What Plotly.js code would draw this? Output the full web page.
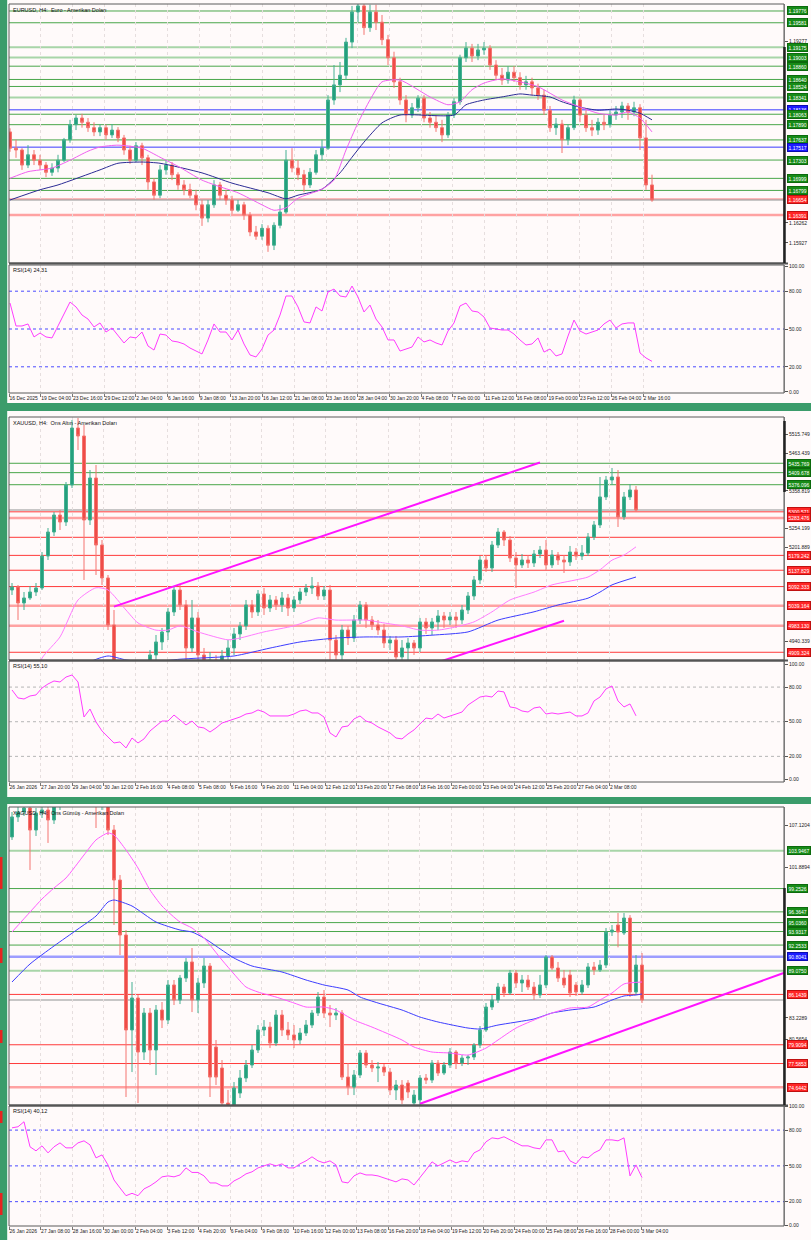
<!DOCTYPE html>
<html>
<head>
<meta charset="utf-8">
<script src="https://cdn.plot.ly/plotly-3.0.1.min.js"></script>
<style>
html,body{margin:0;padding:0;background:#fffafa;overflow:hidden;}
#chart{width:811px;height:1240px;}
</style>
</head>
<body>
<div id="chart"></div>
<script>
// ================= EURUSD H4 =================
const eurTitle = 'EURUSD, H4:  Euro - Amerikan Doları';
const eurRsiTitle = 'RSI(14) 24.31';
const eurDates = ['16 Dec 2025','19 Dec 04:00','23 Dec 16:00','29 Dec 12:00','2 Jan 04:00','6 Jan 16:00','9 Jan 08:00','13 Jan 20:00','16 Jan 12:00','21 Jan 08:00','23 Jan 16:00','28 Jan 04:00','30 Jan 20:00','4 Feb 08:00','7 Feb 00:00','11 Feb 12:00','16 Feb 08:00','19 Feb 00:00','23 Feb 12:00','26 Feb 04:00','2 Mar 16:00'];
const eurOpen = [1.1777,1.1750,1.1747,1.1722,1.1739,1.1730,1.1722,1.1710,1.1717,1.1730,1.1764,1.1789,1.1800,1.1793,1.1784,1.1777,1.1784,1.1772,1.1780,1.1767,1.1747,1.1730,1.1754,1.1734,1.1694,1.1672,1.1714,1.1722,1.1706,1.1689,1.1681,1.1672,1.1656,1.1634,1.1656,1.1689,1.1672,1.1664,1.1647,1.1656,1.1639,1.1611,1.1604,1.1617,1.1589,1.1622,1.1644,1.1730,1.1717,1.1706,1.1689,1.1710,1.1739,1.1750,1.1830,1.1855,1.1871,1.1926,1.1976,1.1986,1.1950,1.1976,1.1959,1.1930,1.1900,1.1860,1.1830,1.1805,1.1817,1.1833,1.1800,1.1793,1.1784,1.1772,1.1805,1.1827,1.1900,1.1916,1.1903,1.1913,1.1916,1.1888,1.1871,1.1863,1.1876,1.1867,1.1855,1.1860,1.1850,1.1838,1.1813,1.1784,1.1790,1.1764,1.1784,1.1830,1.1805,1.1784,1.1780,1.1793,1.1789,1.1805,1.1810,1.1820,1.1810,1.1817,1.1767,1.1689];
const eurHigh = [1.1783,1.1764,1.1750,1.1755,1.1747,1.1739,1.1727,1.1725,1.1739,1.1767,1.1797,1.1805,1.1807,1.1800,1.1793,1.1790,1.1789,1.1790,1.1785,1.1772,1.1754,1.1760,1.1759,1.1739,1.1700,1.1722,1.1730,1.1727,1.1710,1.1697,1.1691,1.1681,1.1664,1.1664,1.1697,1.1694,1.1681,1.1671,1.1664,1.1661,1.1644,1.1621,1.1624,1.1622,1.1627,1.1656,1.1747,1.1750,1.1730,1.1714,1.1717,1.1747,1.1764,1.1838,1.1888,1.1893,1.1933,1.1986,1.1993,1.1989,1.1988,1.1988,1.1971,1.1938,1.1910,1.1867,1.1838,1.1825,1.1838,1.1838,1.1810,1.1805,1.1797,1.1810,1.1833,1.1905,1.1926,1.1923,1.1923,1.1926,1.1921,1.1896,1.1883,1.1886,1.1886,1.1876,1.1870,1.1867,1.1857,1.1847,1.1820,1.1800,1.1797,1.1790,1.1837,1.1833,1.1813,1.1797,1.1800,1.1805,1.1813,1.1820,1.1827,1.1825,1.1827,1.1823,1.1797,1.1706];
const eurLow = [1.1744,1.1734,1.1714,1.1717,1.1722,1.1714,1.1702,1.1704,1.1710,1.1727,1.1759,1.1780,1.1784,1.1777,1.1770,1.1770,1.1764,1.1767,1.1760,1.1739,1.1724,1.1727,1.1722,1.1681,1.1664,1.1667,1.1706,1.1697,1.1681,1.1672,1.1667,1.1647,1.1621,1.1627,1.1651,1.1664,1.1656,1.1641,1.1644,1.1631,1.1604,1.1598,1.1598,1.1578,1.1581,1.1617,1.1641,1.1710,1.1697,1.1677,1.1684,1.1706,1.1730,1.1747,1.1822,1.1843,1.1863,1.1916,1.1959,1.1938,1.1943,1.1946,1.1921,1.1888,1.1850,1.1822,1.1793,1.1800,1.1810,1.1793,1.1784,1.1777,1.1760,1.1767,1.1800,1.1822,1.1893,1.1893,1.1896,1.1905,1.1880,1.1863,1.1855,1.1857,1.1860,1.1847,1.1847,1.1838,1.1830,1.1805,1.1777,1.1772,1.1742,1.1755,1.1780,1.1793,1.1777,1.1770,1.1772,1.1780,1.1784,1.1797,1.1800,1.1797,1.1803,1.1747,1.1681,1.1661];
const eurClose = [1.1750,1.1747,1.1722,1.1739,1.1730,1.1722,1.1710,1.1717,1.1730,1.1764,1.1789,1.1800,1.1793,1.1784,1.1777,1.1784,1.1772,1.1780,1.1767,1.1747,1.1730,1.1754,1.1734,1.1694,1.1672,1.1714,1.1722,1.1706,1.1689,1.1681,1.1672,1.1656,1.1634,1.1656,1.1689,1.1672,1.1664,1.1647,1.1656,1.1639,1.1611,1.1604,1.1617,1.1589,1.1622,1.1644,1.1730,1.1717,1.1706,1.1689,1.1710,1.1739,1.1750,1.1830,1.1855,1.1871,1.1926,1.1976,1.1986,1.1950,1.1976,1.1959,1.1930,1.1900,1.1860,1.1830,1.1805,1.1817,1.1833,1.1800,1.1793,1.1784,1.1772,1.1805,1.1827,1.1900,1.1916,1.1903,1.1913,1.1916,1.1888,1.1871,1.1863,1.1876,1.1867,1.1855,1.1860,1.1850,1.1838,1.1813,1.1784,1.1790,1.1764,1.1784,1.1830,1.1805,1.1784,1.1780,1.1793,1.1789,1.1805,1.1810,1.1820,1.1810,1.1817,1.1767,1.1689,1.1664];
const eurMaFastBar = [0,3,7,10,13,15,18,22,25,28,32,35,38,42,44,46,48,52,54,56,58,60,62,65,70,73,75,77,79,82,85,88,92,94,98,101,103,105,107];
const eurMaFast = [1.1700,1.1711,1.1717,1.1730,1.1745,1.1752,1.1755,1.1750,1.1735,1.1720,1.1697,1.1686,1.1676,1.1656,1.1647,1.1651,1.1667,1.1682,1.1697,1.1747,1.1792,1.1830,1.1860,1.1863,1.1835,1.1822,1.1827,1.1847,1.1858,1.1865,1.1860,1.1852,1.1830,1.1822,1.1808,1.1805,1.1810,1.1800,1.1777];
const eurMaSlowBar = [0,5,8,15,18,22,25,32,37,43,46,48,52,55,57,59,62,65,74,76,79,82,85,87,90,92,95,98,101,103,105,107];
const eurMaSlow = [1.1664,1.1681,1.1689,1.1714,1.1725,1.1727,1.1725,1.1709,1.1692,1.1676,1.1666,1.1672,1.1682,1.1709,1.1735,1.1760,1.1792,1.1805,1.1805,1.1822,1.1830,1.1835,1.1840,1.1838,1.1835,1.1827,1.1818,1.1813,1.1815,1.1813,1.1808,1.1797];
const eurRsi = [70.6,52.4,52.4,54.0,43.7,46.8,43.7,42.9,52.4,61.9,71.4,67.5,61.1,57.9,51.6,54.8,47.6,50.8,45.2,38.9,43.7,42.9,47.6,36.5,33.3,46.0,45.2,40.5,39.7,38.1,34.9,32.5,30.2,41.3,54.0,47.6,47.6,41.3,49.2,38.1,29.4,27.8,34.1,45.2,49.2,61.1,76.2,76.2,67.5,55.6,54.8,67.5,64.3,79.4,81.7,76.2,75.4,84.1,75.4,63.5,69.0,57.9,51.6,41.3,41.3,32.5,34.1,35.7,43.7,39.7,41.3,38.9,37.3,48.4,54.8,68.3,70.6,64.3,63.5,59.5,50.8,50.0,49.2,49.2,46.0,41.3,37.3,38.1,42.9,31.7,34.1,28.6,30.2,44.4,57.1,48.4,46.0,47.6,49.2,54.0,57.1,50.8,54.0,54.8,54.8,31.0,27.0,24.31];
const eurLevels = [1.19776,1.19581,1.19175,1.19003,1.18860,1.18640,1.18524,1.18341,1.18136,1.18063,1.17890,1.17637,1.17517,1.17303,1.16999,1.16799,1.16654,1.16391];
const eurLevelKinds = ['res','res','resWeak','resWeak','res','res','res','resWeak','pivot','res','res','res','pivot','res','res','res','sup','supWeak'];
const eurPriceTicks = [1.15927,1.16262,1.16597,1.16932,1.17267,1.17602,1.17937,1.18272,1.18607,1.18942,1.19277,1.19612];
const eurUnlabeled = [];

// ================= XAUUSD H4 =================
const xauTitle = 'XAUUSD, H4:  Ons Altın - Amerikan Doları';
const xauRsiTitle = 'RSI(14) 55.10';
const xauDates = ['26 Jan 2026','27 Jan 20:00','29 Jan 04:00','30 Jan 12:00','2 Feb 16:00','4 Feb 08:00','5 Feb 08:00','6 Feb 16:00','9 Feb 20:00','11 Feb 04:00','12 Feb 12:00','13 Feb 20:00','17 Feb 08:00','18 Feb 16:00','20 Feb 00:00','23 Feb 04:00','24 Feb 12:00','25 Feb 20:00','27 Feb 04:00','2 Mar 08:00'];
const xauOpen = [5082.8,5091.2,5046.6,5060.6,5077.2,5088.4,5177.5,5244.3,5291.7,5272.2,5375.3,5534.0,5511.8,5277.8,5394.8,5208.1,5116.3,4985.4,4804.3,4665.0,4720.7,4609.3,4678.9,4776.4,4901.8,4938.0,4965.8,5021.6,5082.8,5041.1,4921.3,5004.9,4901.8,4874.0,4887.8,4860.0,4899.0,4921.3,4960.3,4982.6,5041.1,5021.6,5071.7,5032.7,5055.0,5041.1,5060.6,5032.7,5055.0,5077.2,5088.4,5094.0,5066.1,5082.8,4943.5,4901.8,4971.4,4949.1,4999.3,5041.1,4999.3,4985.4,4971.4,4935.2,4943.5,4896.2,4921.3,4935.2,4921.3,4993.7,4977.0,4993.7,5010.4,4999.3,5007.7,4999.3,5027.1,5066.1,5110.7,5166.4,5144.1,5208.1,5244.3,5222.1,5172.0,5152.5,5166.4,5158.0,5183.0,5194.2,5152.5,5180.3,5166.4,5160.8,5188.6,5177.5,5185.8,5230.4,5263.9,5341.9,5389.2,5397.6,5286.2,5341.9,5361.4];
const xauHigh = [5102.3,5096.8,5077.2,5094.0,5102.3,5188.6,5255.5,5300.0,5305.6,5383.6,5556.3,5561.9,5542.4,5417.1,5431.0,5222.1,5124.6,5027.1,4832.1,4776.4,4762.5,4706.8,4804.3,4915.7,4957.5,4977.0,5032.7,5094.0,5096.8,5055.0,5055.0,5021.6,4921.3,4910.1,4901.8,4915.7,4943.5,4977.0,4993.7,5055.0,5055.0,5082.8,5088.4,5068.9,5066.1,5077.2,5071.7,5066.1,5088.4,5099.6,5119.0,5105.1,5094.0,5096.8,4957.5,4985.4,4982.6,5013.2,5052.2,5049.4,5010.4,4999.3,4988.2,4954.7,4954.7,4943.5,4949.1,4943.5,5004.9,5004.9,5004.9,5027.1,5021.6,5021.6,5021.6,5041.1,5077.2,5121.8,5177.5,5180.3,5219.3,5255.5,5249.9,5233.2,5188.6,5183.0,5180.3,5194.2,5205.4,5222.1,5194.2,5188.6,5180.3,5205.4,5199.8,5208.1,5241.5,5275.0,5397.6,5400.4,5422.7,5417.1,5355.8,5377.9,5372.5];
const xauLow = [5068.9,4999.3,5027.1,5055.0,5066.1,5082.8,5166.4,5233.2,5249.9,5261.1,5366.9,5472.8,5110.7,5263.9,5124.6,5096.8,4971.4,4776.4,4609.3,4581.5,4525.8,4553.6,4651.1,4762.5,4882.3,4915.7,4943.5,5010.4,5027.1,4887.8,4910.1,4860.0,4804.3,4832.1,4804.3,4818.2,4874.0,4901.8,4943.5,4971.4,5004.9,5010.4,5013.2,5021.6,5027.1,5021.6,5010.4,5021.6,5043.9,5066.1,5071.7,5055.0,5055.0,4887.8,4882.3,4887.8,4929.6,4938.0,4988.2,4977.0,4971.4,4957.5,4921.3,4915.7,4860.0,4865.6,4874.0,4901.8,4910.1,4960.3,4957.5,4971.4,4977.0,4985.4,4977.0,4988.2,5016.0,5055.0,5099.6,5133.0,5133.0,5199.8,5205.4,5160.8,5088.4,5144.1,5144.1,5146.9,5172.0,5138.5,5144.1,5152.5,5130.2,5149.7,5166.4,5166.4,5177.5,5222.1,5255.5,5333.5,5375.3,5258.3,5277.8,5333.5,5300.0];
const xauClose = [5091.2,5046.6,5060.6,5077.2,5088.4,5177.5,5244.3,5291.7,5272.2,5375.3,5534.0,5511.8,5277.8,5394.8,5208.1,5116.3,4985.4,4804.3,4665.0,4720.7,4609.3,4678.9,4776.4,4901.8,4938.0,4965.8,5021.6,5082.8,5041.1,4921.3,5004.9,4901.8,4874.0,4887.8,4860.0,4899.0,4921.3,4960.3,4982.6,5041.1,5021.6,5071.7,5032.7,5055.0,5041.1,5060.6,5032.7,5055.0,5077.2,5088.4,5094.0,5066.1,5082.8,4943.5,4901.8,4971.4,4949.1,4999.3,5041.1,4999.3,4985.4,4971.4,4935.2,4943.5,4896.2,4921.3,4935.2,4921.3,4993.7,4977.0,4993.7,5010.4,4999.3,5007.7,4999.3,5027.1,5066.1,5110.7,5166.4,5144.1,5208.1,5244.3,5222.1,5172.0,5152.5,5166.4,5158.0,5183.0,5194.2,5152.5,5180.3,5166.4,5160.8,5188.6,5177.5,5185.8,5230.4,5263.9,5341.9,5389.2,5397.6,5286.2,5341.9,5361.4,5305.6];
const xauMaFastBar = [0,3,5,8,11,14,16,19,21,24,26,28,31,36,38,42,47,51,54,59,62,65,68,71,74,77,80,83,87,90,94,96,98,100,102,104];
const xauMaFast = [4700,4800,4893,4952,5055,5089,5083,5027,4991,4971,4971,4983,4966,4944,4949,4966,4983,5005,4999,4999,4991,4983,4971,4971,4980,4994,5022,5055,5077,5097,5111,5119,5139,5166,5180,5203];
const xauMaSlowBar = [0,8,13,16,19,23,28,31,37,43,48,54,59,65,70,76,81,87,91,96,98,100,104];
const xauMaSlow = [4600,4800,4882,4899,4888,4882,4890,4893,4899,4921,4938,4949,4952,4952,4957,4966,4999,5022,5041,5060,5077,5097,5119];
const xauTrendUpperBar = [17,88];
const xauTrendUpper = [5036.6,5438.0];
const xauTrendLowerBar = [70,92];
const xauTrendLower = [4876.0,4997.0];
const xauRsi = [77.5,70.6,69.7,72.3,73.2,79.2,82.7,85.3,84.4,88.7,90.5,84.4,54.1,61.0,49.8,42.0,36.8,31.6,32.5,27.3,35.9,31.6,35.1,42.0,46.3,50.6,50.6,55.8,51.5,47.2,50.6,45.5,44.6,41.1,44.6,48.9,50.6,52.4,54.1,56.7,57.6,60.2,58.4,55.0,55.0,55.0,55.0,56.7,59.3,60.2,57.6,57.6,54.1,40.3,36.8,45.5,46.3,52.4,55.0,50.6,48.9,45.5,42.9,40.3,35.9,35.1,39.4,42.9,48.1,53.2,52.4,56.7,53.2,55.0,56.7,58.4,64.5,68.0,71.4,72.3,71.4,76.6,75.8,62.8,61.9,59.3,58.4,61.9,62.8,56.7,57.6,56.7,57.6,58.4,55.0,55.0,57.6,68.0,71.4,78.4,81.0,68.0,62.8,65.4,55.1];
const xauLevels = [5435.769,5409.678,5376.096,5300.571,5283.476,5229.600,5179.242,5137.829,5092.333,5039.164,4983.130,4909.324];
const xauLevelKinds = ['res','res','res','sup','supWeak','sup','sup','sup','sup','supWeak','supWeak','sup'];
const xauPriceTicks = [4940.339,4992.649,5044.959,5097.269,5149.579,5201.889,5254.199,5306.509,5358.819,5411.129,5463.439,5515.749];
const xauUnlabeled = [5229.600];

// ================= XAGUSD H4 =================
const xagTitle = 'XAGUSD, H4:  Ons Gümüş - Amerikan Doları';
const xagRsiTitle = 'RSI(14) 40.12';
const xagDates = ['26 Jan 2026','27 Jan 08:00','28 Jan 16:00','30 Jan 00:00','2 Feb 04:00','3 Feb 12:00','4 Feb 20:00','6 Feb 04:00','9 Feb 08:00','10 Feb 16:00','12 Feb 00:00','13 Feb 08:00','16 Feb 20:00','18 Feb 04:00','19 Feb 12:00','20 Feb 20:00','24 Feb 00:00','25 Feb 08:00','26 Feb 16:00','28 Feb 00:00','3 Mar 04:00'];
const xagOpen = [105.64,108.12,108.73,109.23,106.50,108.61,108.98,107.74,109.48,110.84,112.70,113.94,115.17,113.32,114.56,110.22,111.46,106.50,100.31,93.50,81.74,85.70,79.01,83.84,79.26,84.21,82.97,87.31,85.45,88.17,90.16,85.45,87.56,89.66,79.63,77.03,72.69,71.83,73.93,75.79,77.40,79.26,81.74,82.10,80.12,83.59,81.74,81.12,80.50,81.36,82.35,83.84,85.82,83.84,83.59,83.84,75.91,74.67,76.16,78.89,77.40,77.03,77.15,76.53,74.31,74.92,75.17,72.69,73.07,75.79,75.54,77.65,76.41,77.40,79.01,77.65,78.27,78.39,79.88,81.74,84.58,85.45,87.06,86.32,88.79,87.56,87.93,87.06,86.07,87.31,90.78,89.41,88.17,88.55,87.31,86.44,87.31,89.54,89.17,89.78,93.87,94.74,93.75,95.60,86.44,89.78];
const xagHigh = [108.73,109.48,110.22,110.22,109.23,109.73,109.98,110.47,112.08,113.94,115.17,116.41,117.03,115.79,115.17,113.32,113.32,107.12,100.93,94.12,87.68,86.07,84.46,84.46,84.83,85.20,87.93,87.93,88.55,90.65,91.89,88.17,90.65,90.03,80.50,78.02,74.31,75.29,76.78,78.02,79.88,82.35,82.97,82.73,84.21,84.21,82.73,82.35,81.98,82.97,84.21,86.44,86.69,84.83,84.46,84.21,77.65,76.78,79.26,79.26,78.02,77.77,77.52,77.03,75.54,75.54,75.54,74.31,76.16,76.29,78.02,78.02,77.77,79.50,79.26,78.64,78.64,80.12,82.23,85.08,86.07,87.56,87.44,89.17,89.17,88.55,88.55,87.68,88.55,91.02,91.02,90.16,89.17,89.17,87.68,87.93,90.03,90.16,90.40,94.37,94.74,96.22,96.22,95.97,91.02,91.27];
const xagLow = [105.27,107.50,108.24,101.55,105.76,107.99,104.90,107.25,108.98,110.22,111.46,112.08,111.46,110.84,106.75,108.98,105.88,94.74,91.02,73.44,76.53,72.69,78.02,77.40,76.16,81.98,82.48,84.83,84.95,87.68,83.96,83.84,86.94,73.44,74.92,70.59,69.97,70.84,73.31,75.29,77.03,78.89,80.99,79.50,79.75,80.99,80.50,79.50,80.00,80.99,81.98,83.47,83.22,82.10,82.97,75.54,73.68,73.68,75.79,77.03,76.53,75.29,76.04,73.68,73.07,72.57,73.31,72.07,72.45,75.05,75.17,76.04,76.16,77.03,76.90,77.27,77.40,78.02,79.50,81.49,84.21,85.08,85.82,86.07,86.94,86.44,86.69,85.45,85.70,86.94,89.17,87.68,86.94,85.82,85.95,86.07,86.94,88.55,88.92,89.41,93.38,91.97,93.50,85.82,86.07,85.08];
const xagClose = [108.12,108.73,109.23,106.50,108.61,108.98,107.74,109.48,110.84,112.70,113.94,115.17,113.32,114.56,110.22,112.08,106.50,100.31,93.50,81.74,85.70,79.01,83.84,79.26,84.21,82.97,87.31,85.45,88.17,90.16,85.45,87.56,89.66,75.91,75.91,72.69,71.83,74.56,75.79,77.40,79.26,81.74,82.10,80.12,83.59,81.74,81.12,80.50,81.36,82.35,83.84,85.82,83.84,83.59,83.84,75.91,74.67,76.16,78.89,77.40,77.03,77.15,76.53,74.31,74.92,73.07,74.06,73.68,75.79,75.54,77.65,76.41,77.40,79.01,77.65,78.27,78.39,79.88,81.74,84.58,85.45,87.06,86.32,88.79,87.56,87.93,87.06,86.07,87.31,90.78,89.41,88.17,87.31,86.32,86.44,87.31,89.54,89.17,89.78,93.87,94.12,93.87,95.60,86.44,89.78,85.45];
const xagMaFastBar = [0,3,5,7,9,12,14,16,17,19,21,23,25,28,30,32,35,37,39,41,44,47,49,52,54,57,60,65,67,70,73,76,79,81,84,87,90,93,96,98,100,102,105];
const xagMaFast = [93.87,96.34,97.96,99.32,100.56,103.41,105.27,106.13,105.88,104.03,101.80,99.07,97.09,95.11,94.37,93.13,90.40,88.67,87.06,86.44,85.82,85.08,84.58,84.58,84.21,82.97,82.10,80.50,79.63,79.01,78.89,78.64,79.50,80.50,81.98,82.97,83.84,84.46,84.58,85.45,86.32,87.44,87.68];
const xagMaSlowBar = [0,3,7,11,14,16,17,20,24,28,30,32,37,40,45,49,52,56,58,61,65,68,71,76,78,81,87,90,93,97,100,102,104,105];
const xagMaSlow = [87.68,89.91,92.14,94.24,95.85,97.58,97.83,97.09,95.11,94.12,93.87,93.13,90.65,89.66,88.92,87.93,87.31,86.69,85.82,85.08,84.21,83.34,82.73,81.98,81.86,82.35,83.10,83.84,84.21,84.58,85.45,85.95,86.07,86.20];
const xagTrendBar = [68,129];
const xagTrend = [72.6,88.9];
const xagRsi = [81.9,82.8,87.0,66.0,62.6,66.8,60.9,66.0,69.3,65.1,65.1,69.3,71.0,67.6,56.7,59.2,50.8,38.2,31.5,25.0,27.0,25.0,30.7,33.2,36.6,40.8,41.6,40.8,42.4,48.3,44.5,44.5,41.6,35.7,35.7,33.2,33.2,37.4,39.9,43.3,45.0,48.3,50.0,51.7,50.0,51.7,48.3,48.3,51.7,54.2,57.6,54.2,52.5,54.2,50.8,36.6,35.7,41.6,44.1,42.4,42.4,41.6,39.9,38.2,36.6,39.1,38.2,34.0,39.9,46.6,53.4,50.0,52.5,55.0,52.5,54.2,53.4,60.9,63.4,70.2,73.5,72.7,74.4,71.8,69.3,66.8,66.8,65.1,64.3,71.8,71.8,61.8,62.6,54.2,51.7,57.6,56.7,60.9,63.4,71.8,71.8,71.0,73.5,41.6,50.8,40.12];
const xagLevels = [103.9467,99.2526,96.3647,95.0360,93.9317,92.2533,90.8041,89.0750,86.1439,79.9094,77.5853,74.6442];
const xagLevelKinds = ['resWeak','res','res','res','res','res','pivotWeak','resWeak','sup','sup','sup','supWeak'];
const xagPriceTicks = [75.2384,77.9019,80.5654,83.2289,85.8924,88.5559,91.2194,93.8829,96.5464,99.2099,101.8894,104.5049,107.1204];
const xagUnlabeled = [];

const rsiLevels = [20, 50, 80];
const rsiTicks = [0, 20, 50, 80, 100];

// ================= drawing =================
const W = 811, H = 1240;
const PX = p => p / W;
const PY = p => 1 - p / H;
const FONT = 'Liberation Sans, Arial, sans-serif';
const PLOT_L = 9, PLOT_R = 784;

const levelStyle = {
  res: {color: '#4aa64a', width: 1},
  resWeak: {color: '#a8d5a8', width: 2},
  pivot: {color: '#3a3aff', width: 1},
  pivotWeak: {color: '#9d9dff', width: 2.5},
  sup: {color: '#ff3a3a', width: 1},
  supWeak: {color: '#ffa2a2', width: 2.5}
};
const boxStyle = {
  res: ['#178b17', '#0d6a0d'], resWeak: ['#178b17', '#0d6a0d'],
  pivot: ['#1c1cff', '#0c0cb0'], pivotWeak: ['#1c1cff', '#0c0cb0'],
  sup: ['#ff2626', '#c01010'], supWeak: ['#ff2626', '#c01010']
};

const panels = [
  {xa: 'x', ya: 'y', ra: 'y2', top: 4, bottom: 263, rTop: 265, rBottom: 393, bar0: 10, barW: 6,
   lab0: 9, labStep: 31.7, range: [1.15595, 1.19892], rsiRange: [-0.8, 100.8], dec: 5,
   title: eurTitle, rsiTitle: eurRsiTitle, dates: eurDates,
   o: eurOpen, h: eurHigh, l: eurLow, c: eurClose,
   fastBar: eurMaFastBar, fast: eurMaFast, slowBar: eurMaSlowBar, slow: eurMaSlow,
   rsi: eurRsi, levels: eurLevels, kinds: eurLevelKinds, ticks: eurPriceTicks, unlabeled: eurUnlabeled,
   trends: [], fastColor: '#f060f0', slowColor: '#2c2c95', rsiLvlColor: '#4a4aff', axisThick: [47, 263]},
  {xa: 'x2', ya: 'y3', ra: 'y4', top: 417, bottom: 660, rTop: 661, rBottom: 782, bar0: 12, barW: 6,
   lab0: 9, labStep: 31.6, range: [4887.8, 5564.7], rsiRange: [-2.2, 102.6], dec: 3,
   title: xauTitle, rsiTitle: xauRsiTitle, dates: xauDates,
   o: xauOpen, h: xauHigh, l: xauLow, c: xauClose,
   fastBar: xauMaFastBar, fast: xauMaFast, slowBar: xauMaSlowBar, slow: xauMaSlow,
   rsi: xauRsi, levels: xauLevels, kinds: xauLevelKinds, ticks: xauPriceTicks, unlabeled: xauUnlabeled,
   trends: [[xauTrendUpperBar, xauTrendUpper], [xauTrendLowerBar, xauTrendLower]],
   fastColor: '#ff7cff', slowColor: '#3d3dff', rsiLvlColor: '#b5b5b5', axisThick: [421, 492]},
  {xa: 'x3', ya: 'y5', ra: 'y6', top: 807, bottom: 1105, rTop: 1106, rBottom: 1226, bar0: 12, barW: 6,
   lab0: 9, labStep: 31.6, range: [72.45, 109.35], rsiRange: [-0.4, 100.2], dec: 4,
   title: xagTitle, rsiTitle: xagRsiTitle, dates: xagDates,
   o: xagOpen, h: xagHigh, l: xagLow, c: xagClose,
   fastBar: xagMaFastBar, fast: xagMaFast, slowBar: xagMaSlowBar, slow: xagMaSlow,
   rsi: xagRsi, levels: xagLevels, kinds: xagLevelKinds, ticks: xagPriceTicks, unlabeled: xagUnlabeled,
   trends: [[xagTrendBar, xagTrend]], fastColor: '#ff5cff', slowColor: '#3d3dff', rsiLvlColor: '#4a4aff', axisThick: [888, 1105]}
];

const axName = id => id.replace(/^x/, 'xaxis').replace(/^y/, 'yaxis');

const data = [];
const shapes = [];
const annotations = [];
const layout = {
  width: W, height: H, margin: {l: 0, r: 0, t: 0, b: 0},
  paper_bgcolor: '#fffafa', plot_bgcolor: '#fffafa', showlegend: false,
  font: {family: FONT, size: 5, color: '#222'},
  hovermode: false
};

// window chrome
shapes.push({type: 'rect', xref: 'paper', yref: 'paper', x0: 0, x1: PX(7), y0: 0, y1: 1, fillcolor: '#3b9c6b', line: {width: 0}, layer: 'above'});
shapes.push({type: 'line', xref: 'paper', yref: 'paper', x0: PX(7.5), x1: PX(7.5), y0: 0, y1: 1, line: {color: '#d5ece0', width: 1}, layer: 'above'});
[[403, 411], [797, 804]].forEach(([a, b]) => shapes.push({type: 'rect', xref: 'paper', yref: 'paper', x0: 0, x1: 1, y0: PY(b), y1: PY(a), fillcolor: '#3b9c6b', line: {width: 0}, layer: 'above'}));
[[857, 889], [948, 963], [1030, 1043], [1111, 1123], [1193, 1215]].forEach(([a, b]) => shapes.push({type: 'rect', xref: 'paper', yref: 'paper', x0: 0, x1: PX(2.5), y0: PY(b), y1: PY(a), fillcolor: '#e8231f', line: {width: 0}, layer: 'above'}));

panels.forEach(p => {
  const xr = [(PLOT_L - p.bar0) / p.barW, (PLOT_R - p.bar0) / p.barW];
  const bars = p.c.map((_, i) => i);
  const tickPos = p.dates.map((_, k) => (p.lab0 + p.labStep * k - p.bar0) / p.barW);
  // price ticks that would sit fully under a level label box are not drawn
  const pxPerUnit = (p.bottom - p.top) / (p.range[1] - p.range[0]);
  const labeled = p.levels.filter(v => !p.unlabeled.includes(v));
  const ticks = p.ticks.filter(t => labeled.every(v => Math.abs(t - v) * pxPerUnit > 5));

  layout[axName(p.xa)] = {
    domain: [PX(PLOT_L), PX(PLOT_R)], range: xr, anchor: p.ra,
    tickvals: tickPos, ticktext: p.dates, tickangle: 0,
    ticks: 'outside', ticklen: 3, tickcolor: '#777', ticklabelposition: 'outside right',
    tickfont: {family: FONT, size: 5, color: '#222'},
    showgrid: true, gridcolor: '#e6dede', griddash: 'dot', gridwidth: 1,
    zeroline: false, showline: false, rangeslider: {visible: false}, fixedrange: true
  };
  layout[axName(p.ya)] = {
    domain: [PY(p.bottom), PY(p.top)], range: p.range, anchor: p.xa, side: 'right',
    tickvals: ticks, ticktext: ticks.map(v => v.toFixed(p.dec)),
    ticks: 'outside', ticklen: 3, tickcolor: '#555', tickfont: {family: FONT, size: 5, color: '#222'},
    showgrid: false, zeroline: false, showline: true, linecolor: '#9a9a9a', linewidth: 1, fixedrange: true
  };
  layout[axName(p.ra)] = {
    domain: [PY(p.rBottom), PY(p.rTop)], range: p.rsiRange, anchor: p.xa, side: 'right',
    tickvals: rsiTicks, ticktext: rsiTicks.map(v => v.toFixed(2)),
    ticks: 'outside', ticklen: 3, tickcolor: '#555', tickfont: {family: FONT, size: 5, color: '#222'},
    showgrid: false, zeroline: false, showline: true, linecolor: '#9a9a9a', linewidth: 1, fixedrange: true
  };

  // candles
  data.push({
    type: 'candlestick', xaxis: p.xa, yaxis: p.ya, x: bars,
    open: p.o, high: p.h, low: p.l, close: p.c, whiskerwidth: 0, hoverinfo: 'skip',
    increasing: {line: {color: '#45b092', width: 1}, fillcolor: '#23a07d'},
    decreasing: {line: {color: '#f47570', width: 1}, fillcolor: '#ef4c47'}
  });
  // moving averages
  data.push({type: 'scatter', mode: 'lines', xaxis: p.xa, yaxis: p.ya, x: p.slowBar, y: p.slow,
    line: {color: p.slowColor, width: 1, shape: 'spline', smoothing: 0.6}, hoverinfo: 'skip'});
  data.push({type: 'scatter', mode: 'lines', xaxis: p.xa, yaxis: p.ya, x: p.fastBar, y: p.fast,
    line: {color: p.fastColor, width: 1, shape: 'spline', smoothing: 0.6}, hoverinfo: 'skip'});
  // trend lines
  p.trends.forEach(([tx, ty]) => data.push({type: 'scatter', mode: 'lines', xaxis: p.xa, yaxis: p.ya, x: tx, y: ty,
    line: {color: '#ff14ff', width: 2}, hoverinfo: 'skip'}));
  // RSI
  data.push({type: 'scatter', mode: 'lines', xaxis: p.xa, yaxis: p.ra, x: p.rsi.map((_, i) => i), y: p.rsi,
    line: {color: '#ff3cff', width: 1}, hoverinfo: 'skip'});

  // horizontal levels
  p.levels.forEach((v, i) => {
    const st = levelStyle[p.kinds[i]];
    shapes.push({type: 'line', xref: p.xa + ' domain', yref: p.ya, x0: 0, x1: 1, y0: v, y1: v,
      line: {color: st.color, width: st.width}, layer: 'below'});
  });
  // current price line
  const last = p.c[p.c.length - 1];
  shapes.push({type: 'line', xref: p.xa + ' domain', yref: p.ya, x0: 0, x1: 1, y0: last, y1: last,
    line: {color: '#b4b4b4', width: 1.5}, layer: 'below'});
  // RSI levels
  rsiLevels.forEach(v => shapes.push({type: 'line', xref: p.xa + ' domain', yref: p.ra, x0: 0, x1: 1, y0: v, y1: v,
    line: {color: p.rsiLvlColor, width: 1, dash: 'dot'}, layer: 'below'}));
  // frames
  [p.ya, p.ra].forEach(a => shapes.push({type: 'rect', xref: p.xa + ' domain', yref: a + ' domain', x0: 0, x1: 1, y0: 0, y1: 1,
    line: {color: '#5a5a5a', width: 1}, layer: 'above'}));
  shapes.push({type: 'line', xref: 'paper', yref: 'paper', x0: PX(PLOT_L), x1: PX(PLOT_R + 4), y0: PY(p.bottom + 0.5), y1: PY(p.bottom + 0.5),
    line: {color: '#555', width: 2}, layer: 'above'});
  shapes.push({type: 'line', xref: 'paper', yref: 'paper', x0: PX(PLOT_R + 0.5), x1: PX(PLOT_R + 0.5), y0: PY(p.axisThick[1]), y1: PY(p.axisThick[0]),
    line: {color: '#222', width: 2.5}, layer: 'above'});

  // level labels
  p.levels.forEach((v, i) => {
    if (p.unlabeled.includes(v)) return;
    const [bg, bd] = boxStyle[p.kinds[i]];
    annotations.push({xref: 'paper', yref: p.ya, x: PX(PLOT_R + 2.5), y: v, xanchor: 'left', yanchor: 'middle',
      text: v.toFixed(p.dec), showarrow: false, font: {family: FONT, size: 5, color: '#ffffff'},
      bgcolor: bg, bordercolor: bd, borderwidth: 1, borderpad: 0.5});
  });
  // titles
  annotations.push({xref: 'paper', yref: 'paper', x: PX(11), y: PY(p.top + 6), xanchor: 'left', yanchor: 'middle',
    text: p.title, showarrow: false, font: {family: FONT, size: 5.5, color: '#111'}});
  annotations.push({xref: 'paper', yref: 'paper', x: PX(11), y: PY(p.rTop + 5), xanchor: 'left', yanchor: 'middle',
    text: p.rsiTitle, showarrow: false, font: {family: FONT, size: 5.5, color: '#111'}});
});

layout.shapes = shapes;
layout.annotations = annotations;

Plotly.newPlot('chart', data, layout, {staticPlot: true, displayModeBar: false});
</script>
</body>
</html>
